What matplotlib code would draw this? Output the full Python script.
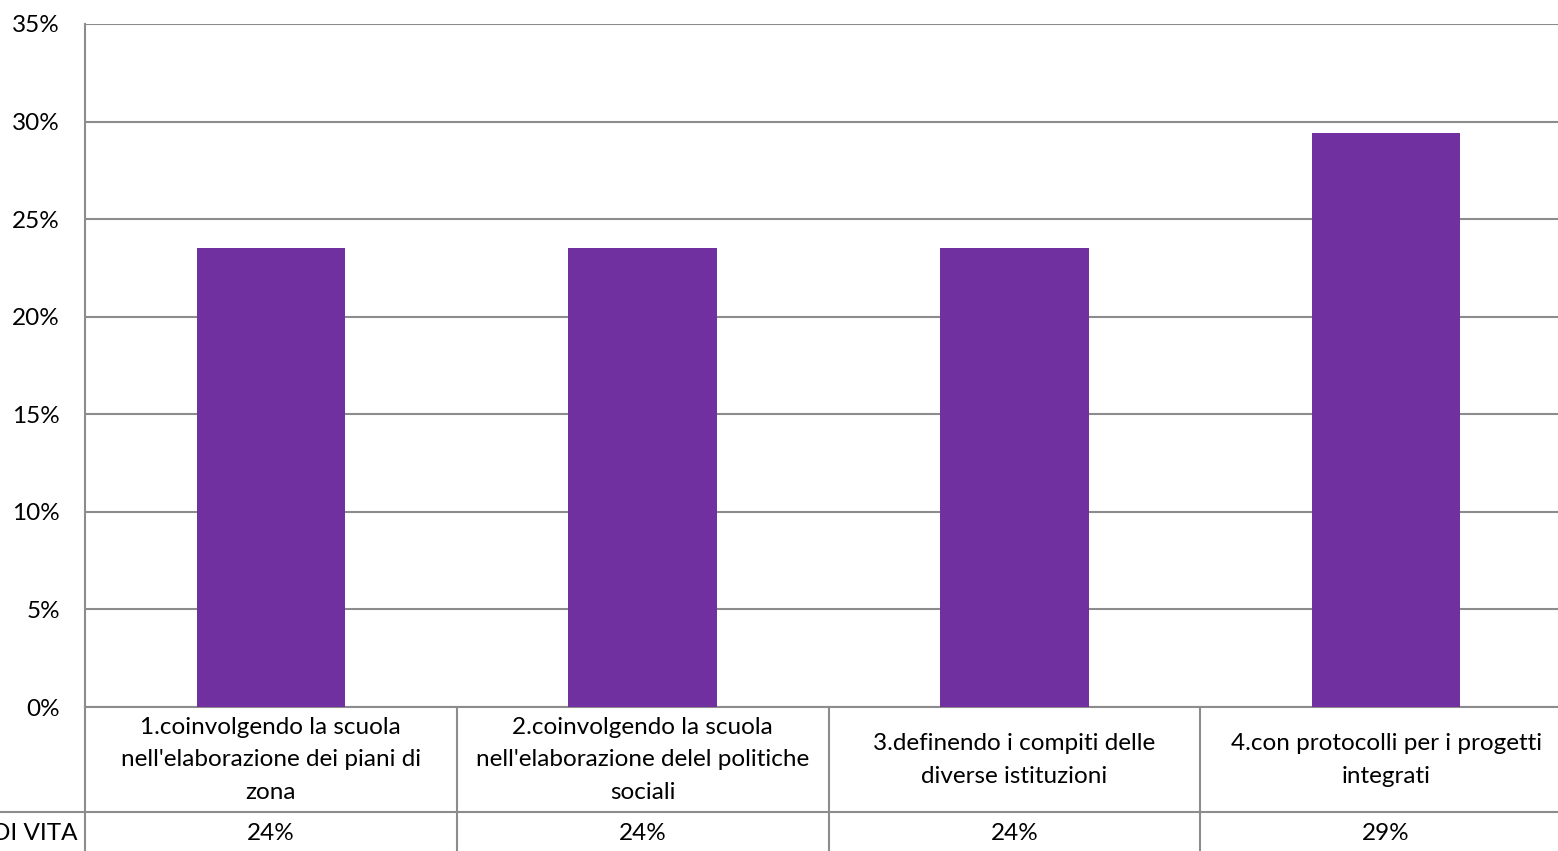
import matplotlib.pyplot as plt
from matplotlib.transforms import blended_transform_factory
from matplotlib.ticker import PercentFormatter

plt.rcParams['font.family'] = ['Lato', 'DejaVu Sans']

# categorie e percentuali
categorie = [
    "1.coinvolgendo la scuola\nnell'elaborazione dei piani di\nzona",
    "2.coinvolgendo la scuola\nnell'elaborazione delel politiche\nsociali",
    "3.definendo i compiti delle\ndiverse istituzioni",
    "4.con protocolli per i progetti\nintegrati",
]
valori = [0.2353, 0.2353, 0.2353, 0.2941]
serie = "DI VITA"

viola = "#7030A0"
grigio = "#8c8c8c"
fs = 17.5

W, H = 1558, 851
fig = plt.figure(figsize=(W / 100, H / 100), dpi=100)
# l'asse esce leggermente a destra, come nel grafico di excel
ax = fig.add_axes([85 / W, 1 - 707 / H, (1572 - 85) / W, (707 - 24) / H])

x = range(len(valori))
ax.bar(x, valori, width=0.4, color=viola, zorder=3)
ax.set_xlim(-0.5, len(valori) - 0.5)
ax.set_ylim(0, 0.35)
ax.set_yticks([i * 0.05 for i in range(8)])
ax.yaxis.set_major_formatter(PercentFormatter(1.0, decimals=0))
ax.grid(axis='y', color=grigio, linewidth=1.5, zorder=0)
ax.tick_params(axis='y', length=0, pad=18, labelsize=fs)
ax.set_xticks([])
for s in ['top', 'right', 'bottom']:
    ax.spines[s].set_visible(False)
ax.spines['left'].set_color(grigio)
ax.spines['left'].set_linewidth(1.5)

# tabella dei dati sotto il grafico
tr = blended_transform_factory(ax.transData, ax.transAxes)
h_ax = 707 - 24


def ypix(p):
    return (707 - p) / h_ax


riga1, riga2, fondo = ypix(707), ypix(812), ypix(880)
ax.plot([-0.5, 3.5], [riga1, riga1], transform=tr, color=grigio, lw=1.5, clip_on=False)
ax.plot([-0.5 - 100 / 372, 3.5], [riga2, riga2], transform=tr, color=grigio, lw=1.5, clip_on=False)
for i in range(len(valori) + 1):
    ax.plot([i - 0.5, i - 0.5], [riga1, fondo], transform=tr, color=grigio, lw=1.5, clip_on=False)

for i, (c, v) in enumerate(zip(categorie, valori)):
    ax.text(i, ypix(760), c, transform=tr, ha='center', va='center',
            fontsize=fs, linespacing=1.65)
    ax.text(i, ypix(833), f"{v * 100:.0f}%", transform=tr, ha='center', va='center',
            fontsize=fs)

ax.text(-0.5 - 8 / 372, ypix(833), serie, transform=tr, ha='right', va='center', fontsize=fs)

fig.savefig("out.png", dpi=100)
